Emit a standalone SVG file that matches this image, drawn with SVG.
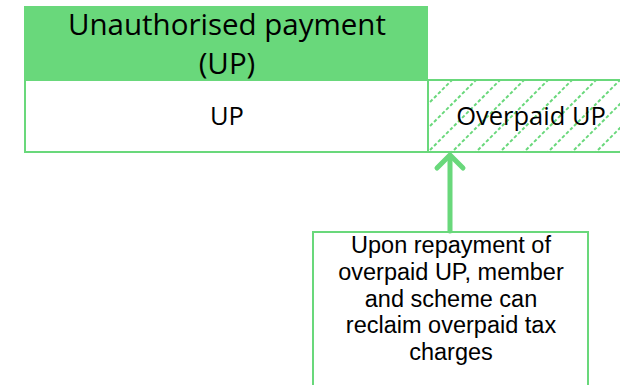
<svg xmlns="http://www.w3.org/2000/svg" width="620" height="385" viewBox="0 0 620 385">
  <defs>
    <style>
      .t { font-family: "Open Sans", "Noto Sans", "Liberation Sans", sans-serif; fill: #000; text-anchor: middle; }
      .n { font-family: "Liberation Sans", Arial, sans-serif; fill: #000; text-anchor: middle; font-size: 23.5px; }
      .box { stroke: #69d87b; stroke-width: 2; }
      .conn { stroke: #69d87b; stroke-width: 5; fill: none; stroke-linecap: round; stroke-linejoin: round; }
    </style>
    <pattern id="hatch" patternUnits="userSpaceOnUse" x="428" y="80" width="24" height="24">
      <path d="M-2,26 L26,-2" stroke="#69d87b" stroke-width="2" stroke-dasharray="3.5,2.2"/>
      <path d="M-26,26 L2,-2 M22,26 L50,-2" stroke="#69d87b" stroke-width="2" stroke-dasharray="3.5,2.2"/>
    </pattern>
  </defs>
  <rect width="620" height="385" fill="#fff"/>
  <g id="header">
    <rect x="24" y="6" width="404" height="74" fill="#69d87b"/>
    <text class="t" x="227" y="35" font-size="29.5">Unauthorised payment</text>
    <text class="t" x="227" y="74" font-size="29.5">(UP)</text>
  </g>
  <g id="up">
    <rect class="box" x="25" y="80" width="403" height="72" fill="#fff"/>
    <text class="t" x="227" y="125" font-size="25.5">UP</text>
  </g>
  <g id="overpaid">
    <rect class="box" x="428" y="80" width="200" height="72" fill="url(#hatch)"/>
    <text class="t" x="531" y="125" font-size="25.5">Overpaid UP</text>
  </g>
  <g id="note">
    <rect class="box" x="313" y="232" width="275" height="160" fill="#fff"/>
    <text class="n" x="451" y="253">Upon repayment of</text>
    <text class="n" x="451" y="280">overpaid UP, member</text>
    <text class="n" x="451" y="306.5">and scheme can</text>
    <text class="n" x="451" y="333">reclaim overpaid tax</text>
    <text class="n" x="451" y="360">charges</text>
  </g>
  <g id="connectors">
    <path class="conn" d="M450,231 L450,156"/>
    <path class="conn" d="M437,168 L450,155 L463,168"/>
  </g>
</svg>
